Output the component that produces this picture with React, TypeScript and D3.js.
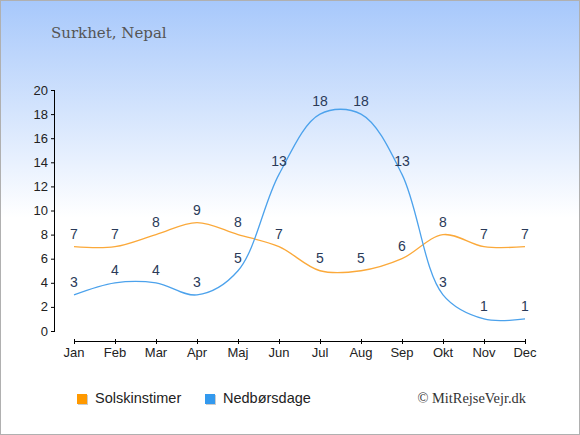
import * as d3 from 'd3';

const months = ['Jan', 'Feb', 'Mar', 'Apr', 'Maj', 'Jun', 'Jul', 'Aug', 'Sep', 'Okt', 'Nov', 'Dec'];
const sunHours = [7, 7, 8, 9, 8, 7, 5, 5, 6, 8, 7, 7];
const rainDays = [3, 4, 4, 3, 5, 13, 18, 18, 13, 3, 1, 1];
const yTicks = [0, 2, 4, 6, 8, 10, 12, 14, 16, 18, 20];

const SUN_LINE = '#fba93a';
const RAIN_LINE = '#4ca2ec';
const SUN_KEY = '#ff9900';
const RAIN_KEY = '#3399ee';
const LABEL = '#2a3a58';

const width = 580;
const height = 435;

export default function App() {
  const x = d3.scalePoint<string>().domain(months).range([74, 525]);
  const y = d3.scaleLinear().domain([0, 20]).range([331, 90]);

  const line = d3
    .line<number>()
    .x((_, i) => x(months[i]) ?? 0)
    .y((d) => y(d))
    .curve(d3.curveCatmullRom.alpha(0.5));

  const series = [
    { name: 'Solskinstimer', values: sunHours, stroke: SUN_LINE, key: SUN_KEY },
    { name: 'Nedbørsdage', values: rainDays, stroke: RAIN_LINE, key: RAIN_KEY },
  ];
  const legendX = [77, 205];

  return (
    <>
      <style>{'body{margin:0}'}</style>
      <svg width={width} height={height} style={{ display: 'block' }}>
        <defs>
          <linearGradient id='bg' x1='0' y1='0' x2='0' y2='1'>
            <stop offset='0' stopColor='#a7c8fb' />
            <stop offset='0.5' stopColor='#ffffff' />
            <stop offset='1' stopColor='#ffffff' />
          </linearGradient>
        </defs>
        <rect x={0.5} y={0.5} width={width - 1} height={height - 1} fill='url(#bg)' stroke='#b0b0b0' />

        <text x={51} y={38} fontFamily='DejaVu Serif' fontSize={15} fill='#555'>
          Surkhet, Nepal
        </text>

        {/* Y axis */}
        <line x1={54.5} x2={54.5} y1={y(20)} y2={y(0)} stroke='#000' />
        {yTicks.map((t) => (
          <g key={t}>
            <line x1={51} x2={55} y1={y(t) + 0.5} y2={y(t) + 0.5} stroke='#000' />
            <text
              x={48}
              y={y(t)}
              dy='0.35em'
              textAnchor='end'
              fontFamily='Liberation Sans, Arial'
              fontSize={13}
              fill='#222'
            >
              {t}
            </text>
          </g>
        ))}

        {/* X axis */}
        <line x1={74} x2={525} y1={341.5} y2={341.5} stroke='#000' />
        {months.map((m) => (
          <g key={m}>
            <line x1={(x(m) ?? 0) + 0.5} x2={(x(m) ?? 0) + 0.5} y1={339} y2={344} stroke='#000' />
            <text
              x={x(m)}
              y={357}
              textAnchor='middle'
              fontFamily='Liberation Sans, Arial'
              fontSize={13}
              fill='#222'
            >
              {m}
            </text>
          </g>
        ))}

        {/* Lines */}
        {series.map((s) => (
          <path key={s.name} d={line(s.values) ?? ''} fill='none' stroke={s.stroke} strokeWidth={1.3} />
        ))}

        {/* Value labels */}
        {series.map((s) =>
          s.values.map((v, i) => (
            <text
              key={s.name + i}
              x={x(months[i])}
              y={y(v) - 8}
              textAnchor='middle'
              fontFamily='Liberation Sans, Arial'
              fontSize={14}
              fill={LABEL}
            >
              {v}
            </text>
          )),
        )}

        {/* Legend */}
        {series.map((s, i) => (
          <g key={s.name} transform={`translate(${legendX[i]},394)`}>
            <rect x={1} y={1} width={10} height={10} fill='#ccc' />
            <rect x={0} y={0} width={10} height={10} fill={s.key} />
            <text x={18} y={9} fontFamily='Liberation Sans, Arial' fontSize={14.5} fill='#222'>
              {s.name}
            </text>
          </g>
        ))}

        <text x={526} y={403} textAnchor='end' fontFamily='Liberation Serif' fontSize={14.4} fill='#333'>
          © MitRejseVejr.dk
        </text>
      </svg>
    </>
  );
}
